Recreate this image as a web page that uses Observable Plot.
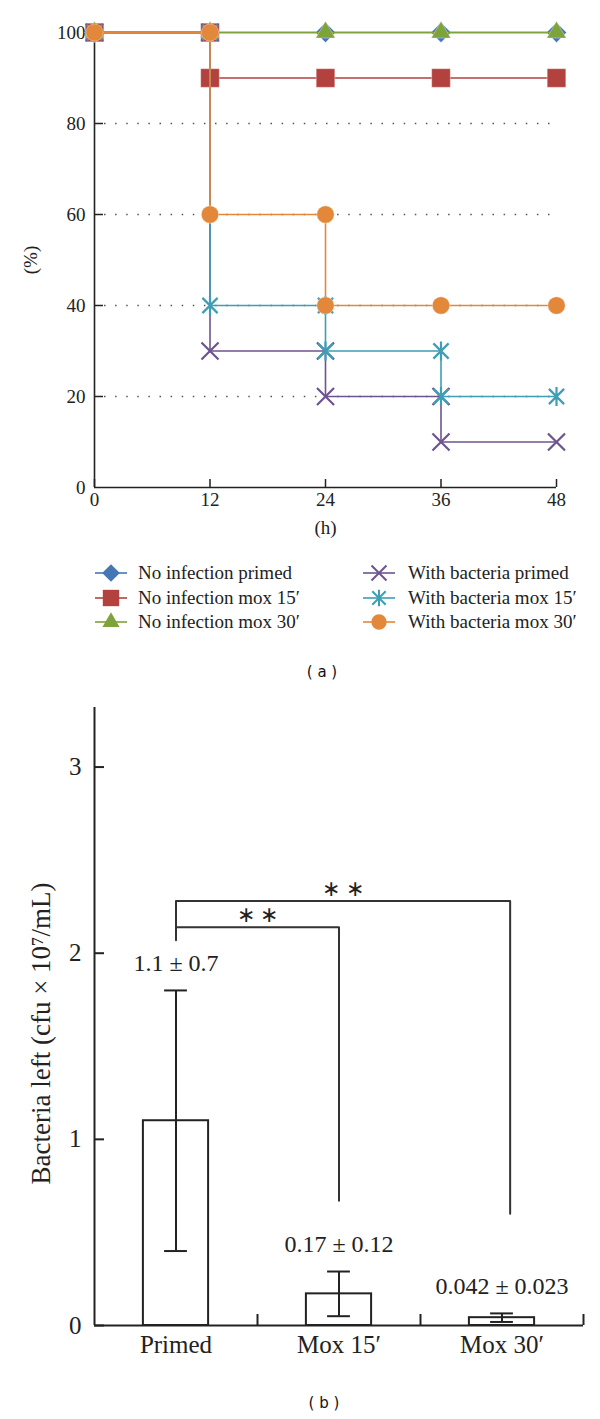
<!DOCTYPE html>
<html>
<head>
<meta charset="utf-8">
<script src="https://cdn.jsdelivr.net/npm/d3@7"></script>
<script src="https://cdn.jsdelivr.net/npm/@observablehq/plot@0.6"></script>
<style>
  body { margin: 0; background: #fff; }
  #root { position: relative; width: 600px; height: 1419px; background: #fff; font-family: "Liberation Serif", serif; color: #222; overflow: hidden; }
  .panel { position: absolute; font-family: "DejaVu Sans", Verdana, sans-serif; font-size: 15px; transform: translate(-50%, -50%); white-space: pre; color: #111; }
  .leg { position: absolute; display: flex; align-items: center; font-size: 19px; white-space: nowrap; transform: translateY(-50%); }
  .leg svg { display: block; overflow: visible; }
  .chart { position: absolute; left: 0; }
  .chart text { font-family: "Liberation Serif", serif; }
</style>
</head>
<body>
<div id="root"></div>
<script>
// ---------- Panel (a): survival over time ----------
const hourTicks = [0, 12, 24, 36, 48];
const pctTicks = [0, 20, 40, 60, 80, 100];
const pctGrid = [20, 40, 60, 80];

const seriesNames = [
  "No infection primed",
  "No infection mox 15′",
  "No infection mox 30′",
  "With bacteria primed",
  "With bacteria mox 15′",
  "With bacteria mox 30′"
];

const noInfPrimedT = [0, 12, 24, 36, 48];
const noInfPrimedV = [100, 100, 100, 100, 100];
const noInfMox15T = [0, 12, 12, 24, 36, 48];
const noInfMox15V = [100, 100, 90, 90, 90, 90];
const noInfMox30T = [0, 12, 24, 36, 48];
const noInfMox30V = [100, 100, 100, 100, 100];
const bactPrimedT = [0, 12, 12, 24, 24, 36, 36, 48];
const bactPrimedV = [100, 100, 30, 30, 20, 20, 10, 10];
const bactMox15T = [0, 12, 12, 24, 24, 36, 36, 48];
const bactMox15V = [100, 100, 40, 40, 30, 30, 20, 20];
const bactMox30T = [0, 12, 12, 24, 24, 36, 48];
const bactMox30V = [100, 100, 60, 60, 40, 40, 40];

// ---------- Panel (b): bacteria left ----------
const groups = ["Primed", "Mox 15′", "Mox 30′"];
const means = [1.1, 0.17, 0.042];
const sds = [0.7, 0.12, 0.023];
const meanLabels = ["1.1 ± 0.7", "0.17 ± 0.12", "0.042 ± 0.023"];
const bTicks = [0, 1, 2, 3];
const sigFrom = [0, 0];
const sigTo = [1, 2.05];
const sigLevel = [2.14, 2.28];
const sigLeftBottom = [2.07, 2.14];
const sigRightBottom = [0.67, 0.60];
const sigText = ["∗ ∗", "∗ ∗"];

// ---------- styles ----------
const serif = "Liberation Serif, serif";
const colors = ["#4677b4", "#b3423f", "#7ea33a", "#6e548f", "#3e9eb6", "#e3883a"];
const diamond = {
  draw(ctx, size) {
    const h = Math.sqrt(size / 2);
    ctx.moveTo(0, -h); ctx.lineTo(h, 0); ctx.lineTo(0, h); ctx.lineTo(-h, 0); ctx.closePath();
  }
};
const starX = {
  draw(ctx, size) {
    const r = Math.sqrt(size / Math.PI), a = r * 0.8;
    ctx.moveTo(0, -r); ctx.lineTo(0, r);
    ctx.moveTo(-a, -a); ctx.lineTo(a, a);
    ctx.moveTo(-a, a); ctx.lineTo(a, -a);
  }
};
const symbols = [diamond, "square", "triangle", "times", starX, "circle"];
const d3Symbols = [diamond, d3.symbolSquare, d3.symbolTriangle, d3.symbolTimes, starX, d3.symbolCircle];
const radii = [8, 10.5, 7.2, 7.8, 9.5, 8.7];
const filled = [true, true, true, false, false, true];
const ink = "#222";

const root = document.getElementById("root");

// ---- Top chart
const seriesT = [noInfPrimedT, noInfMox15T, noInfMox30T, bactPrimedT, bactMox15T, bactMox30T];
const seriesV = [noInfPrimedV, noInfMox15V, noInfMox30V, bactPrimedV, bactMox15V, bactMox30V];

const seriesMarks = [];
seriesNames.forEach((name, i) => {
  const rows = seriesT[i].map((t, j) => ({series: name, t, v: seriesV[i][j]}));
  seriesMarks.push(Plot.line(rows, {x: "t", y: "v", stroke: colors[i], strokeWidth: 1.6}));
  seriesMarks.push(Plot.dot(rows, filled[i]
    ? {x: "t", y: "v", symbol: symbols[i], r: radii[i], fill: colors[i], stroke: "white", strokeOpacity: 0.35, strokeWidth: 1}
    : {x: "t", y: "v", symbol: symbols[i], r: radii[i], stroke: colors[i], strokeWidth: 2.2, fill: "none"}));
});

const topChart = Plot.plot({
  width: 600,
  height: 545,
  marginLeft: 94,
  marginRight: 44,
  marginTop: 32,
  marginBottom: 58,
  style: {fontFamily: serif, fontSize: "19px", background: "white", color: ink, overflow: "visible"},
  x: {domain: [0, 48]},
  y: {domain: [0, 100]},
  marks: [
    Plot.ruleY(pctGrid, {y: d => d, x1: 0, x2: 48, insetLeft: 10, insetRight: 3, stroke: "#555", strokeWidth: 1.5, strokeDasharray: "1.5,9.6"}),
    Plot.ruleY(pctGrid, {y: d => d, x1: 0, x2: 0, insetRight: -9, stroke: ink, strokeWidth: 1.5}),
    Plot.ruleX(hourTicks, {x: d => d, y1: 0, y2: 0, insetTop: -8, stroke: ink, strokeWidth: 1.5}),
    Plot.ruleX([0], {x: d => d, y1: 0, y2: 100, stroke: ink, strokeWidth: 1.6}),
    Plot.ruleY([0], {y: d => d, x1: 0, x2: 48, stroke: ink, strokeWidth: 1.6}),
    Plot.axisY({ticks: pctTicks, tickSize: 0, tickPadding: 9, fontSize: 19, fontFamily: serif, label: null}),
    Plot.axisX({ticks: hourTicks, tickSize: 0, tickPadding: 5, fontSize: 19, fontFamily: serif, label: null}),
    Plot.text(["(%)"], {frameAnchor: "left", textAnchor: "middle", dx: -64, rotate: -90, fontSize: 19, fontFamily: serif}),
    Plot.text(["(h)"], {frameAnchor: "bottom", dy: 46, fontSize: 19, fontFamily: serif}),
    ...seriesMarks
  ]
});
topChart.classList.add("chart");
topChart.style.top = "0px";
root.appendChild(topChart);

// ---- Legend
const legRowY = [573, 598, 622];
const legColX = [95, 363];
const legGap = [11, 13];
seriesNames.forEach((name, i) => {
  const col = i < 3 ? 0 : 1, row = i % 3;
  const div = document.createElement("div");
  div.className = "leg";
  div.style.left = legColX[col] + "px";
  div.style.top = legRowY[row] + "px";
  const svg = d3.create("svg").attr("width", 32).attr("height", 22);
  svg.append("line").attr("x1", 0).attr("x2", 32).attr("y1", 11).attr("y2", 11)
    .attr("stroke", colors[i]).attr("stroke-width", 1.6);
  const sz = Math.PI * (radii[i] * 0.88) ** 2;
  svg.append("path").attr("transform", "translate(16,11)")
    .attr("d", d3.symbol(d3Symbols[i], sz)())
    .attr("fill", filled[i] ? colors[i] : "none")
    .attr("stroke", filled[i] ? "none" : colors[i])
    .attr("stroke-width", 2);
  div.appendChild(svg.node());
  const span = document.createElement("span");
  span.textContent = name;
  span.style.marginLeft = legGap[col] + "px";
  div.appendChild(span);
  root.appendChild(div);
});

// ---- Panel label (a)
const la = document.createElement("div");
la.className = "panel"; la.textContent = "( a )";
la.style.left = "322px"; la.style.top = "672px";
root.appendChild(la);

// ---- Bottom chart
const idx = groups.map((g, i) => i);
const bracketRows = [];
sigFrom.forEach((f, k) => {
  bracketRows.push({k, x: f, y: sigLeftBottom[k]});
  bracketRows.push({k, x: f, y: sigLevel[k]});
  bracketRows.push({k, x: sigTo[k], y: sigLevel[k]});
  bracketRows.push({k, x: sigTo[k], y: sigRightBottom[k]});
});
const sigRows = sigFrom.map((f, k) => ({x: (f + sigTo[k]) / 2, y: sigLevel[k], text: sigText[k]}));

const bottomChart = Plot.plot({
  width: 600,
  height: 690,
  marginLeft: 94,
  marginRight: 17,
  marginTop: 17,
  marginBottom: 55,
  style: {fontFamily: serif, fontSize: "25px", background: "white", color: ink, overflow: "visible"},
  x: {domain: [-0.5, 2.5]},
  y: {domain: [0, 3.32]},
  marks: [
    Plot.rectY(idx, {x1: i => i - 0.2, x2: i => i + 0.2, y1: 0, y2: i => means[i], fill: "white", stroke: ink, strokeWidth: 2}),
    Plot.ruleX(idx, {x: i => i, y1: i => means[i] - sds[i], y2: i => means[i] + sds[i], stroke: ink, strokeWidth: 2}),
    Plot.ruleY(idx, {y: i => means[i] + sds[i], x1: i => i - 0.07, x2: i => i + 0.07, stroke: ink, strokeWidth: 2}),
    Plot.ruleY(idx, {y: i => means[i] - sds[i], x1: i => i - 0.07, x2: i => i + 0.07, stroke: ink, strokeWidth: 2}),
    Plot.text(idx, {x: i => i, y: i => means[i] + sds[i], text: i => meanLabels[i], dy: -27, fontSize: 24, fontFamily: serif, fill: ink}),
    Plot.line(bracketRows, {x: "x", y: "y", z: "k", stroke: "#333", strokeWidth: 2}),
    Plot.text(sigRows, {x: "x", y: "y", text: "text", dy: -12, fontSize: 22, fontFamily: serif, fill: ink}),
    Plot.ruleY(bTicks, {y: d => d, x1: -0.5, x2: -0.5, insetRight: -10, stroke: ink, strokeWidth: 2}),
    Plot.ruleX([0.5, 1.5, 2.5], {x: d => d, y1: 0, y2: 0, insetTop: -11, stroke: ink, strokeWidth: 2}),
    Plot.ruleX([-0.5], {x: d => d, stroke: ink, strokeWidth: 2}),
    Plot.ruleY([0], {y: d => d, stroke: ink, strokeWidth: 2}),
    Plot.axisY({ticks: bTicks, tickFormat: d => String(d), tickSize: 0, tickPadding: 13, fontSize: 25, fontFamily: serif, label: null}),
    Plot.axisX({ticks: idx, tickFormat: i => groups[i], tickSize: 0, tickPadding: 10, fontSize: 25, fontFamily: serif, label: null}),
    Plot.text(["Bacteria left (cfu × 10⁷/mL)"], {frameAnchor: "left", textAnchor: "middle", dx: -53, dy: 17, rotate: -90, fontSize: 27, fontFamily: serif})
  ]
});
bottomChart.classList.add("chart");
bottomChart.style.top = "690px";
root.appendChild(bottomChart);

// ---- Panel label (b)
const lb = document.createElement("div");
lb.className = "panel"; lb.textContent = "( b )";
lb.style.left = "324px"; lb.style.top = "1403px";
root.appendChild(lb);
</script>
</body>
</html>
